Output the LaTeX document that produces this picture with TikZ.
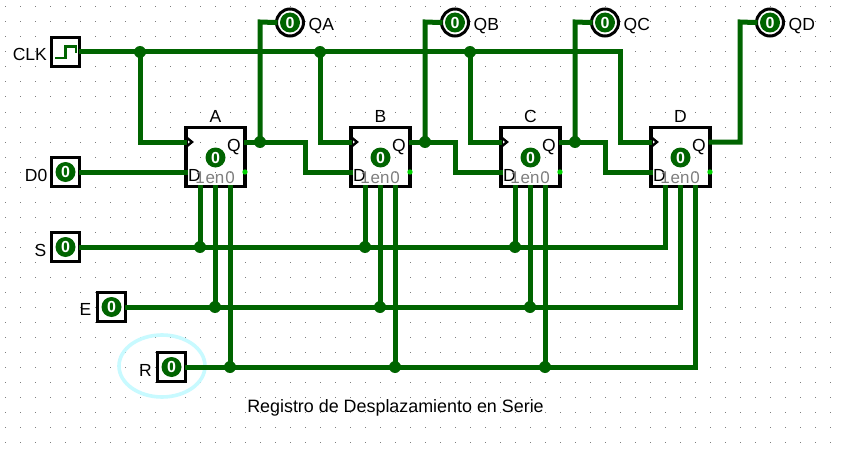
\documentclass[tikz,border=0pt]{standalone}
\usepackage{fontspec}
\setmainfont{Liberation Sans}
\newcommand{\fsz}[1]{\fontsize{#1}{#1}\selectfont}
\definecolor{wiregreen}{RGB}{0,100,0}
\definecolor{halo}{RGB}{200,250,255}
\definecolor{griddot}{RGB}{125,125,125}
\definecolor{pingreen}{RGB}{0,210,0}
\tikzset{
  wirepath/.style={draw=wiregreen,line width=5pt,line join=miter,line cap=rect},
  joint/.style={circle,fill=wiregreen,draw=none,minimum size=12pt,inner sep=0pt},
  regbox/.style={draw=black,line width=3.2pt,fill=none,minimum width=59pt,minimum height=59pt,inner sep=0pt},
  inbox/.style={draw=black,line width=3.2pt,fill=white,minimum width=28.5pt,minimum height=28.5pt,inner sep=0pt},
  ledring/.style={circle,draw=black,line width=3pt,fill=white,minimum size=27pt,inner sep=0pt},
  leddisc/.style={ellipse,fill=wiregreen,draw=none,minimum width=20pt,minimum height=20pt,inner sep=0pt,text=white,font=\fsz{16}\bfseries},
  lbl/.style={inner sep=0pt,text=black,font=\fsz{17.5}},
  pinlbl/.style={inner sep=0pt,text=gray,font=\fsz{17}},
}
\usetikzlibrary{shapes.geometric}
\begin{document}
\begin{tikzpicture}[x=1pt,y=-1pt]
\useasboundingbox (0,0) rectangle (844,452);
\fill[white] (0,0) rectangle (844,452);
% grid
\foreach \gx in {5,20,...,840} \foreach \gy in {7,22,...,445}
  \fill[griddot] (\gx-0.5,\gy-0.5) rectangle (\gx+0.5,\gy+0.5);
% halo
\node[ellipse,draw=halo,line width=3.6pt,minimum width=86pt,minimum height=62pt,inner sep=0pt] (halo) at (162,366) {};
% registers
\foreach \nm/\lx in {A/185,B/350,C/500,D/650}{
  \pgfmathsetmacro{\cx}{\lx+30.5}
  \node[regbox] (\nm) at (\cx,157.3) {};
  \coordinate (\nm clk) at (\lx-1,142);
  \coordinate (\nm d) at (\lx,172);
  \coordinate (\nm q) at (\lx+61,142);
  \coordinate (\nm s) at (\lx+15,187);
  \coordinate (\nm e) at (\lx+30,187);
  \coordinate (\nm r) at (\lx+45,187);
  \node[lbl,anchor=base] (\nm lab) at (\cx,122.7) {\nm};
  \node[lbl,anchor=base] (\nm Qt) at (\lx+49,151.5) {Q};
  \node[lbl,anchor=base] (\nm Dt) at (\lx+9.5,181.5) {D};
  \node[pinlbl,anchor=base] (\nm one) at (\lx+15,183.5) {1};
  \node[pinlbl,anchor=base] (\nm en) at (\lx+30,183.5) {en};
  \node[pinlbl,anchor=base] (\nm zero) at (\lx+45,183.5) {0};
  \node[leddisc] (\nm led) at (\lx+30.5,157.5) {0};
  \fill[pingreen] (\lx+60,172) circle (2.7pt);
}
% inputs
\node[inbox] (clk) at (65.5,52) {};
\draw[wiregreen,line width=2.8pt,line join=miter] (55,58) -- (65.5,58) -- (65.5,46.5) -- (76,46.5) -- (76,53);
\node[inbox] (d0) at (65.5,172) {};
\node[leddisc] at (d0) {0};
\node[inbox] (s) at (65.5,247) {};
\node[leddisc] at (s) {0};
\node[inbox] (e) at (111.5,307) {};
\node[leddisc] at (e) {0};
\node[inbox] (r) at (171.5,367) {};
\node[leddisc] at (r) {0};
\node[lbl,anchor=base east] (clkt) at (47,60.7) {CLK};
\node[lbl,anchor=base east] (d0t) at (47.5,181) {D0};
\node[lbl,anchor=base east] (st) at (46.5,256.7) {S};
\node[lbl,anchor=base east] (et) at (91.5,315.7) {E};
\node[lbl,anchor=base east] (rt) at (152,376) {R};
% outputs
\foreach \nm/\ox in {A/290,B/455,C/605,D/770}{
  \node[ledring] (out\nm) at (\ox,22.5) {};
  \node[leddisc] (outled\nm) at (\ox,22.5) {0};
  \node[lbl,anchor=base west] (outt\nm) at (\ox+18.5,30.3) {Q\nm};
}
% junctions
\foreach \jn/\jx/\jy in {j1/140/52,j2/320/52,j3/470/52,jA/260/142,jB/425/142,jC/575/142,
  sa/200/247,sb/365/247,sc/515/247,ea/215/307,eb/380/307,ec/530/307,ra/230/367,rb/395/367,rc/545/367}{
  \coordinate (\jn) at (\jx,\jy);
}
% wires
\draw[wirepath] (clk.east) -- (j1) -- (j2) -- (j3) -- (620,52) -- (620,142) -- (Dclk);
\draw[wirepath] (j1) -- (140,142) -- (Aclk);
\draw[wirepath] (j2) -- (320,142) -- (Bclk);
\draw[wirepath] (j3) -- (470,142) -- (Cclk);
\draw[wirepath] (d0.east) -- (Ad);
\draw[wirepath] (Aq) -- (jA) -- (305,142) -- (305,172) -- (Bd);
\draw[wirepath] (Bq) -- (jB) -- (455,142) -- (455,172) -- (Cd);
\draw[wirepath] (Cq) -- (jC) -- (605,142) -- (605,172) -- (Dd);
\draw[wirepath] (jA) -- (260,22) -- (outA.west);
\draw[wirepath] (jB) -- (425,22) -- (outB.west);
\draw[wirepath] (jC) -- (575,22) -- (outC.west);
\draw[wirepath] (Dq) -- (740,142) -- (740,22) -- (outD.west);
\draw[wirepath] (s.east) -- (sa) -- (sb) -- (sc) -- (665,247) -- (Ds);
\draw[wirepath] (e.east) -- (ea) -- (eb) -- (ec) -- (680,307) -- (De);
\draw[wirepath] (r.east) -- (ra) -- (rb) -- (rc) -- (695,367) -- (Dr);
\draw[wirepath] (As) -- (sa); \draw[wirepath] (Bs) -- (sb); \draw[wirepath] (Cs) -- (sc);
\draw[wirepath] (Ae) -- (ea); \draw[wirepath] (Be) -- (eb); \draw[wirepath] (Ce) -- (ec);
\draw[wirepath] (Ar) -- (ra); \draw[wirepath] (Br) -- (rb); \draw[wirepath] (Cr) -- (rc);
\foreach \jn in {j1,j2,j3,jA,jB,jC,sa,sb,sc,ea,eb,ec,ra,rb,rc}{
  \node[joint] at (\jn) {};
}
% clock triangles
\foreach \nm in {A,B,C,D}{
  \draw[black,line width=2.4pt,line join=miter] ([xshift=2pt,yshift=-5pt]\nm clk) -- ([xshift=8pt]\nm clk) -- ([xshift=2pt,yshift=5pt]\nm clk);
}
\node[inner sep=0pt,text=black,font=\fsz{17.9},anchor=base] (title) at (395.5,412.7) {Registro de Desplazamiento en Serie};
\end{tikzpicture}
\end{document}
